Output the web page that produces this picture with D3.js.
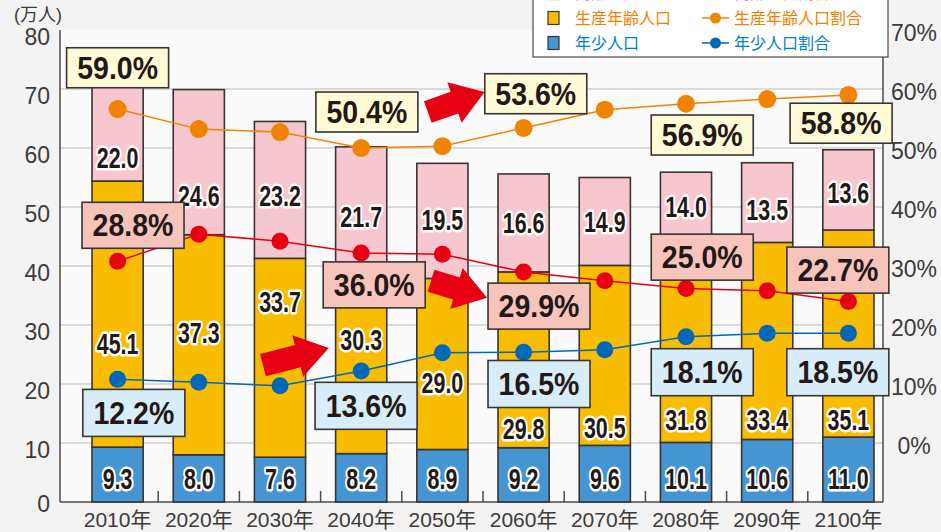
<!DOCTYPE html>
<html>
<head>
<meta charset="utf-8">
<script src="https://cdn.jsdelivr.net/npm/d3@7"></script>
<style>
  html, body { margin: 0; padding: 0; background: #f3f3f3; }
  svg { display: block; font-family: 'Liberation Sans', Arial, 'Noto Sans CJK JP', sans-serif; }
</style>
</head>
<body>
<div id="chart"></div>
<script>
const years = ['2010年', '2020年', '2030年', '2040年', '2050年', '2060年', '2070年', '2080年', '2090年', '2100年']

// 万人
const young = [9.3, 8.0, 7.6, 8.2, 8.9, 9.2, 9.6, 10.1, 10.6, 11.0]
const working = [45.1, 37.3, 33.7, 30.3, 29.0, 29.8, 30.5, 31.8, 33.4, 35.1]
const elderly = [22.0, 24.6, 23.2, 21.7, 19.5, 16.6, 14.9, 14.0, 13.5, 13.6]

// % (as plotted)
const workingRatio = [56.6, 53.2, 52.7, 50.0, 50.3, 53.4, 56.5, 57.5, 58.3, 59.0]
const elderlyRatio = [30.8, 35.4, 34.2, 32.2, 32.0, 29.0, 27.5, 26.2, 25.8, 24.0]
const youngRatio = [10.8, 10.3, 9.7, 12.2, 15.3, 15.4, 15.8, 18.0, 18.6, 18.6]

const leftTicks = [0, 10, 20, 30, 40, 50, 60, 70, 80]
const rightTicks = [0, 10, 20, 30, 40, 50, 60, 70]

// callout boxes: text, anchor (category index, % on right axis)
const workingCallouts = [['59.0%', 0, 63.6], ['50.4%', 3.07, 56.1], ['53.6%', 5.15, 59.2], ['56.9%', 7.2, 52.2], ['58.8%', 8.91, 54.2]]
const elderlyCallouts = [['28.8%', 0.19, 36.9], ['36.0%', 3.16, 26.8], ['29.9%', 5.19, 23.2], ['25.0%', 7.2, 31.5], ['22.7%', 8.87, 29.3]]
const youngCallouts = [['12.2%', 0.2, 5.1], ['13.6%', 3.06, 6.3], ['16.5%', 5.19, 10.0], ['18.1%', 7.2, 12.0], ['18.5%', 8.87, 12.0]]

// arrows: [tail index, tail %, tip index, tip %]
const arrows = [[3.82, 56.1, 4.52, 59.5], [3.86, 27.5, 4.55, 24.6], [1.79, 13.2, 2.60, 16.1]]

const width = 941
const height = 532
const margin = { top: 30, right: 58, bottom: 30, left: 60 }

const colors = {
  young: '#4595d3',
  working: '#f8bd00',
  elderly: '#f6c7cf',
  youngLine: '#0068b7',
  workingLine: '#f08300',
  elderlyLine: '#e60012',
  ink: '#231815'
}

const svg = d3.select('#chart')
  .append('svg')
  .attr('width', width)
  .attr('height', height)
  .attr('viewBox', [0, 0, width, height].join(' '))

const plotRight = width - margin.right

// scales
const y = d3.scaleLinear().domain([0, 80]).range([height - margin.bottom, margin.top])
const yr = d3.scaleLinear().domain([-10, 70]).range([height - margin.bottom, margin.top])

const x = d3.scaleBand()
  .domain(years)
  .range([77, 889])
  .paddingInner(0.37)
  .paddingOuter(0.185)

const xi = d3.scaleLinear()
  .domain([0, years.length - 1])
  .range([x(years[0]) + x.bandwidth() / 2, x(years[years.length - 1]) + x.bandwidth() / 2])

// plot background
svg.append('rect')
  .attr('x', margin.left)
  .attr('y', margin.top)
  .attr('width', plotRight - margin.left)
  .attr('height', y(0) - margin.top)
  .attr('fill', '#fafafa')

// grid
svg.append('g')
  .attr('class', 'grid')
  .selectAll('line')
  .data(leftTicks.filter(t => t > 0 && t < 80))
  .join('line')
  .attr('x1', margin.left)
  .attr('x2', plotRight)
  .attr('y1', d => y(d))
  .attr('y2', d => y(d))
  .attr('stroke', '#b9b9b9')
  .attr('stroke-width', 1.2)

// left axis
svg.append('line')
  .attr('x1', margin.left).attr('x2', margin.left)
  .attr('y1', margin.top).attr('y2', y(0))
  .attr('stroke', '#4a4a4a')
  .attr('stroke-width', 1.5)

svg.append('g')
  .selectAll('text')
  .data(leftTicks)
  .join('text')
  .attr('x', 50)
  .attr('y', d => y(d) + (d === 0 ? 2 : 7))
  .attr('dy', '0.36em')
  .attr('text-anchor', 'end')
  .attr('font-size', 23)
  .attr('fill', '#3e3a39')
  .text(d => d)

svg.append('text')
  .attr('x', 14)
  .attr('y', 21)
  .attr('font-size', 18)
  .attr('fill', '#3e3a39')
  .text('(万人)')

// right axis
svg.append('line')
  .attr('x1', plotRight).attr('x2', plotRight)
  .attr('y1', margin.top).attr('y2', y(0))
  .attr('stroke', '#4a4a4a')
  .attr('stroke-width', 1.5)

svg.append('g')
  .selectAll('text')
  .data(rightTicks)
  .join('text')
  .attr('x', 914)
  .attr('y', d => yr(d) + 3)
  .attr('dy', '0.36em')
  .attr('text-anchor', 'middle')
  .attr('font-size', 23)
  .attr('fill', '#3e3a39')
  .text(d => `${d}%`)

// bottom axis
svg.append('line')
  .attr('x1', margin.left).attr('x2', plotRight)
  .attr('y1', y(0)).attr('y2', y(0))
  .attr('stroke', '#4a4a4a')
  .attr('stroke-width', 1.5)

svg.append('g')
  .selectAll('line')
  .data(years.slice(1))
  .join('line')
  .attr('x1', d => x(d) - x.step() * x.paddingInner() / 2)
  .attr('x2', d => x(d) - x.step() * x.paddingInner() / 2)
  .attr('y1', y(0))
  .attr('y2', y(0) - 11)
  .attr('stroke', '#4a4a4a')
  .attr('stroke-width', 1.5)

svg.append('g')
  .selectAll('text')
  .data(years)
  .join('text')
  .attr('x', d => x(d) + x.bandwidth() / 2)
  .attr('y', 527)
  .attr('text-anchor', 'middle')
  .attr('font-size', 21)
  .attr('fill', '#3e3a39')
  .text(d => d)

// stacked bars
const stacked = years.map((year, i) => ({ year, young: young[i], working: working[i], elderly: elderly[i] }))
const stack = d3.stack().keys(['young', 'working', 'elderly'])(stacked)

svg.append('g')
  .attr('class', 'bars')
  .selectAll('g')
  .data(stack)
  .join('g')
  .attr('fill', d => colors[d.key])
  .selectAll('rect')
  .data(d => d)
  .join('rect')
  .attr('x', d => x(d.data.year))
  .attr('width', x.bandwidth())
  .attr('y', d => y(d[1]))
  .attr('height', d => y(d[0]) - y(d[1]))
  .attr('stroke', '#3a3334')
  .attr('stroke-width', 1.6)

// bar value labels (position in 万人 units)
const youngLabelAt = years.map(() => 4.0)
const workingLabelAt = [26.9, 28.8, 33.9, 27.6, 20.2, 12.5, 12.7, 13.9, 13.9, 13.9]
const elderlyLabelAt = [58.3, 52.0, 52.0, 48.3, 47.8, 47.3, 47.5, 50.0, 49.5, 52.4]

const barLabels = [
  [young, youngLabelAt],
  [working, workingLabelAt],
  [elderly, elderlyLabelAt]
].flatMap(([values, at]) => values.map((v, i) => ({ year: years[i], v, at: at[i] })))

svg.append('g')
  .attr('class', 'bar-labels')
  .selectAll('text')
  .data(barLabels)
  .join('text')
  .attr('transform', d => `translate(${x(d.year) + x.bandwidth() / 2},${y(d.at)}) scale(0.74,1)`)
  .attr('dy', '0.36em')
  .attr('text-anchor', 'middle')
  .attr('font-size', 29)
  .attr('font-weight', 'bold')
  .attr('fill', colors.ink)
  .attr('stroke', '#fff')
  .attr('stroke-width', 5)
  .attr('stroke-linejoin', 'round')
  .attr('paint-order', 'stroke')
  .text(d => d.v.toFixed(1))

// ratio lines
const ratioSeries = [
  { id: 'working', values: workingRatio, color: colors.workingLine, r: 9 },
  { id: 'elderly', values: elderlyRatio, color: colors.elderlyLine, r: 8.5 },
  { id: 'young', values: youngRatio, color: colors.youngLine, r: 8.5 }
]

const line = d3.line()
  .x((d, i) => x(years[i]) + x.bandwidth() / 2)
  .y(d => yr(d))

const series = svg.append('g')
  .attr('class', 'ratios')
  .selectAll('g')
  .data(ratioSeries)
  .join('g')

series.append('path')
  .attr('d', d => line(d.values))
  .attr('fill', 'none')
  .attr('stroke', d => d.color)
  .attr('stroke-width', 1.5)

series.selectAll('circle')
  .data(d => d.values.map((v, i) => ({ v, i, color: d.color, r: d.r })))
  .join('circle')
  .attr('cx', d => x(years[d.i]) + x.bandwidth() / 2)
  .attr('cy', d => yr(d.v))
  .attr('r', d => d.r)
  .attr('fill', d => d.color)

// callouts
const callouts = [
  ...workingCallouts.map(c => ({ c, fill: '#fffbd6', h: 40 })),
  ...elderlyCallouts.map(c => ({ c, fill: '#f7c4bc', h: 46 })),
  ...youngCallouts.map(c => ({ c, fill: '#d7edf9', h: 47 }))
]

const callout = svg.append('g')
  .attr('class', 'callouts')
  .selectAll('g')
  .data(callouts)
  .join('g')
  .attr('transform', ({ c: [, idx, pct] }) => `translate(${xi(idx)},${yr(pct)})`)

callout.append('rect')
  .attr('x', -51)
  .attr('y', d => -d.h / 2)
  .attr('width', 102)
  .attr('height', d => d.h)
  .attr('fill', d => d.fill)
  .attr('stroke', '#3a3334')
  .attr('stroke-width', 1.6)

callout.append('text')
  .attr('transform', 'scale(0.92,1)')
  .attr('dy', '0.36em')
  .attr('text-anchor', 'middle')
  .attr('font-size', 31)
  .attr('font-weight', 'bold')
  .attr('fill', colors.ink)
  .text(({ c: [label] }) => label)

// arrows
const arrowPath = len => {
  const head = 32
  const body = 11.5
  const wing = 21.5
  return [
    [0, -body], [len - head, -body], [len - head, -wing], [len, 0],
    [len - head, wing], [len - head, body], [0, body]
  ]
}

svg.append('g')
  .attr('class', 'arrows')
  .selectAll('path')
  .data(arrows)
  .join('path')
  .attr('transform', ([i0, p0, i1, p1]) => {
    const angle = Math.atan2(yr(p1) - yr(p0), xi(i1) - xi(i0)) * 180 / Math.PI
    return `translate(${xi(i0)},${yr(p0)}) rotate(${angle})`
  })
  .attr('d', ([i0, p0, i1, p1]) => {
    const len = Math.hypot(xi(i1) - xi(i0), yr(p1) - yr(p0))
    return d3.line()(arrowPath(len)) + 'Z'
  })
  .attr('fill', '#e60012')

// legend (top row runs off the top edge, as in the source)
const legend = svg.append('g').attr('class', 'legend')

legend.append('rect')
  .attr('x', 533)
  .attr('y', -10)
  .attr('width', 355)
  .attr('height', 67)
  .attr('fill', '#fff')
  .attr('stroke', '#4a4a4a')
  .attr('stroke-width', 1.2)

const legendRows = [
  { bar: '高齢人口', ratio: '高齢人口割合', fill: colors.elderly, line: colors.elderlyLine, text: '#ec8c9c' },
  { bar: '生産年齢人口', ratio: '生産年齢人口割合', fill: colors.working, line: colors.workingLine, text: '#f08300' },
  { bar: '年少人口', ratio: '年少人口割合', fill: colors.young, line: colors.youngLine, text: '#0080c8' }
]

const row = legend.selectAll('g')
  .data(legendRows)
  .join('g')
  .attr('transform', (d, i) => `translate(0,${-7 + i * 25})`)

row.append('rect')
  .attr('x', 548).attr('y', -6.5)
  .attr('width', 11).attr('height', 13)
  .attr('fill', d => d.fill)
  .attr('stroke', '#3a3334')
  .attr('stroke-width', 1.2)

row.append('text')
  .attr('x', 575)
  .attr('dy', '0.36em')
  .attr('font-size', 16)
  .attr('font-family', 'Noto Sans CJK JP')
  .attr('fill', d => d.text)
  .text(d => d.bar)

row.append('line')
  .attr('x1', 702).attr('x2', 729)
  .attr('stroke', d => d.line)
  .attr('stroke-width', 1.5)

row.append('circle')
  .attr('cx', 715.5)
  .attr('r', 5.5)
  .attr('fill', d => d.line)

row.append('text')
  .attr('x', 734)
  .attr('dy', '0.36em')
  .attr('font-size', 16)
  .attr('font-family', 'Noto Sans CJK JP')
  .attr('fill', d => d.text)
  .text(d => d.ratio)
</script>
</body>
</html>
